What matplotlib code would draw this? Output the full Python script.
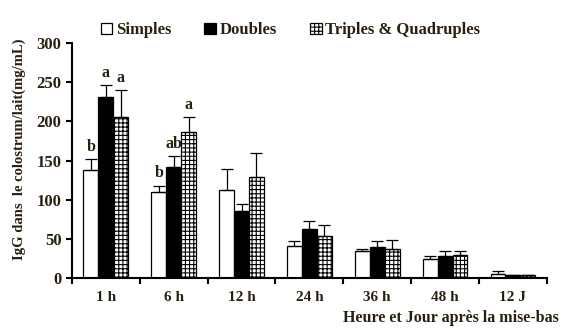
import numpy as np
import matplotlib
matplotlib.use("Agg")
from matplotlib import pyplot as plt

plt.rcParams['font.family'] = ['Liberation Serif', 'DejaVu Serif']
plt.rcParams['font.weight'] = 'bold'
plt.rcParams['hatch.linewidth'] = 0.8

txt = '#2a2010'

categories = ['1 h', '6 h', '12 h', '24 h', '36 h', '48 h', '12 J']
series = ['Simples', 'Doubles', 'Triples & Quadruples']

simples = [138, 110, 112, 41, 34, 24, 5.5]
simples_err = [14, 8, 27, 6, 3, 3.5, 3]
doubles = [231, 142, 85, 62, 40, 27.5, 3.8]
doubles_err = [15, 14, 9, 11, 7.5, 6.5, 0.5]
triples = [205, 186, 129, 54, 37, 29, 3.5]
triples_err = [35, 20, 31, 14, 11, 6, 0.5]

letters_s = ['b', 'b', '', '', '', '', '']
letters_d = ['a', 'ab', '', '', '', '', '']
letters_t = ['a', 'a', '', '', '', '', '']

fig = plt.figure(figsize=(5.62, 3.29), dpi=100)
ax = fig.add_axes([0.128, 0.155, 0.845, 0.714])

x = np.arange(len(categories))
w = 0.22
styles = [dict(facecolor='white', edgecolor='black', hatch=None),
          dict(facecolor='black', edgecolor='black', hatch=None),
          dict(facecolor='white', edgecolor='black', hatch='++++')]
vals = [simples, doubles, triples]
errs = [simples_err, doubles_err, triples_err]
lets = [letters_s, letters_d, letters_t]

for i in range(3):
    pos = x + (i - 1) * w
    ax.bar(pos, vals[i], w, linewidth=0.9, label=series[i], **styles[i])
    ax.errorbar(pos, vals[i], yerr=[np.zeros(len(x)), errs[i]], fmt='none',
                ecolor='black', elinewidth=0.9, capsize=4, capthick=0.9)
    for p, v, e, l in zip(pos, vals[i], errs[i], lets[i]):
        if l:
            ax.annotate(l, (p, v + e), xytext=(0, 3), textcoords='offset points',
                        ha='center', va='bottom', fontsize=11.5, color=txt,
                        fontweight='bold')

ax.set_xlim(-0.5, len(categories) - 0.5)
ax.set_ylim(0, 300)
ax.set_yticks(range(0, 301, 50))
ax.set_xticks(np.arange(len(categories) + 1) - 0.5)
ax.set_xticklabels([])
ax.set_xticks(x, minor=True)
ax.set_xticklabels(categories, minor=True)
ax.tick_params(axis='x', which='minor', length=0, pad=9, labelsize=11, labelcolor=txt)
ax.tick_params(axis='x', which='major', direction='out', length=4, width=1.5)
ax.tick_params(axis='y', direction='out', length=4, width=1.5, labelsize=12, labelcolor=txt)
for lab in ax.get_xticklabels(minor=True) + ax.get_yticklabels():
    lab.set_fontweight('bold')

ax.spines['top'].set_visible(False)
ax.spines['right'].set_visible(False)
ax.spines['left'].set_linewidth(1.5)
ax.spines['bottom'].set_linewidth(1.5)

fig.text(19 / 562, 1 - 149 / 329, 'IgG dans  le colostrum/lait(mg/mL)', rotation=90,
         ha='center', va='center', fontsize=10.5, color=txt, fontweight='bold')
fig.text(0.995, 0.01, 'Heure et Jour après la mise-bas',
         ha='right', va='bottom', fontsize=11.5, color=txt, fontweight='bold')

leg = ax.legend(loc='center', bbox_to_anchor=(0.46, 1.055), ncol=3, frameon=False,
                handlelength=0.7, handleheight=0.7, handletextpad=0.2,
                columnspacing=2.0, prop={'size': 12, 'weight': 'bold'})
for t in leg.get_texts():
    t.set_color(txt)

fig.savefig('out.png', dpi=100)
